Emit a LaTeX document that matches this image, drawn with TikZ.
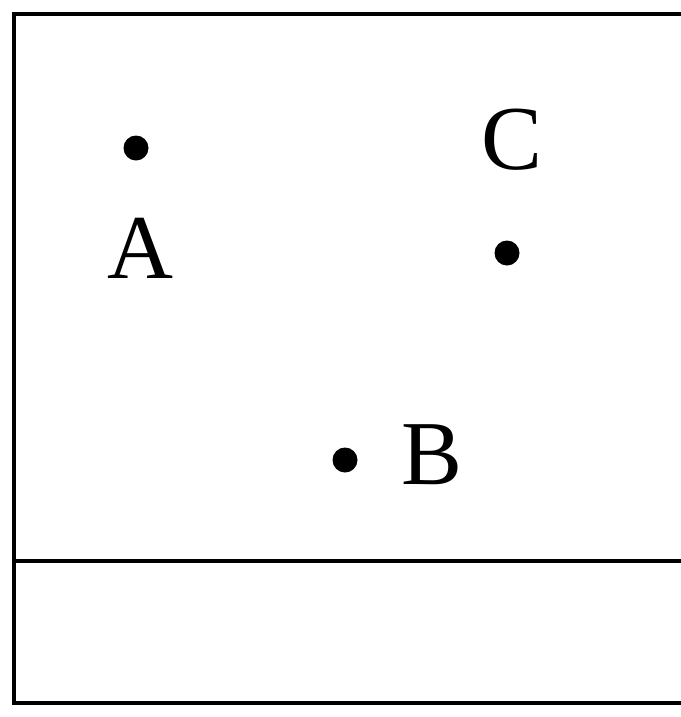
\documentclass[tikz,border=0pt]{standalone}
\usepackage{fontspec}
\setmainfont{Liberation Serif}
\usetikzlibrary{positioning}

\begin{document}
\begin{tikzpicture}[
  pt/.style={circle, fill=black, inner sep=0pt, minimum size=0.5cm},
  lbl/.style={inner sep=0pt, font=\fontsize{52}{52}\selectfont},
  frame/.style={line width=0.09cm, draw=black}
]
\useasboundingbox (0,0) rectangle (13.62,-14.34);
\draw[frame] (0.28,-0.28) rectangle (14.2,-14.06);
\draw[frame] (0.28,-11.22) -- (14.2,-11.22);

% points
\node[pt] (A) at (2.72,-2.96) {};
\node[pt] (C) at (10.14,-5.06) {};
\node[pt] (B) at (6.90,-9.20) {};

% labels
\node[lbl] (labA) at (2.80,-4.96) {A};
\node[lbl] (labC) at (10.24,-2.80) {C};
\node[lbl] (labB) at (8.64,-9.10) {B};
\end{tikzpicture}
\end{document}
